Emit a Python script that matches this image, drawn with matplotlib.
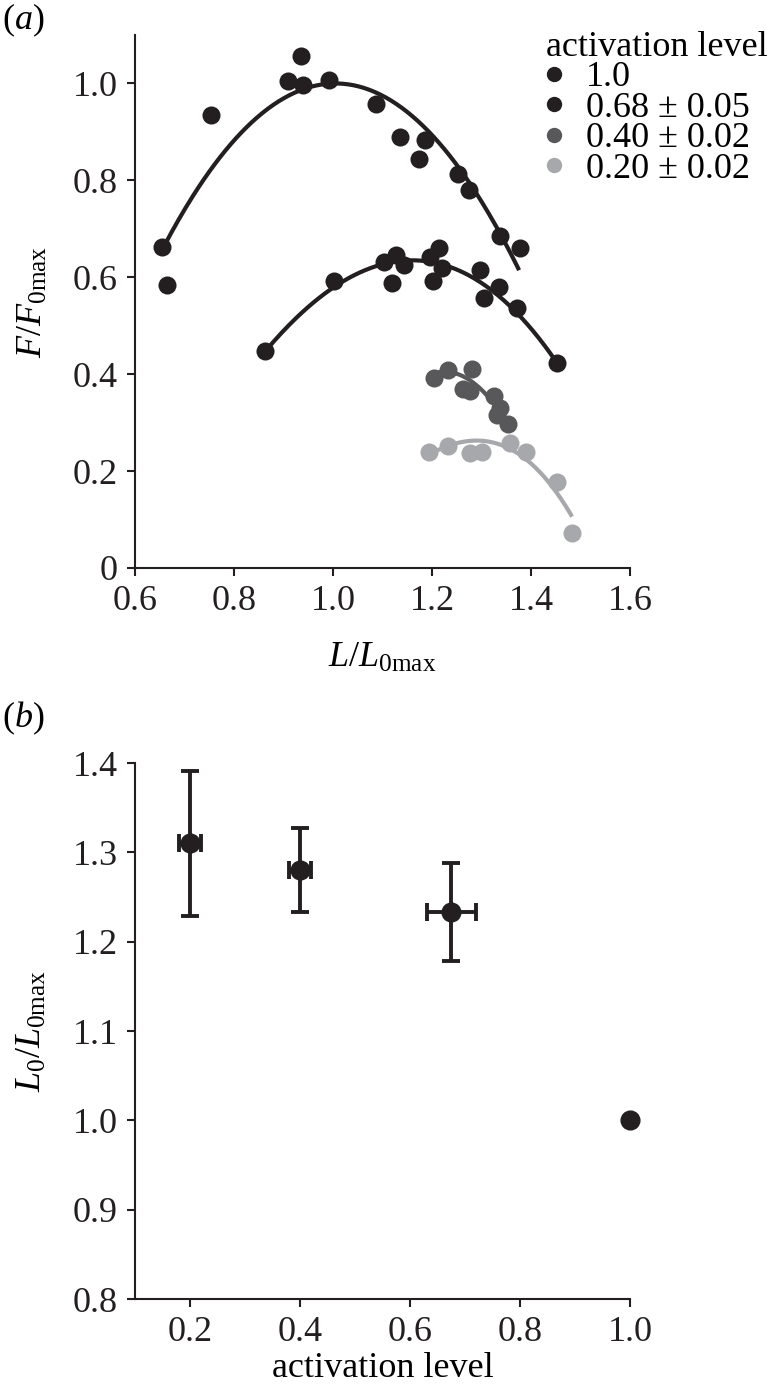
import numpy as np
import matplotlib
matplotlib.use("Agg")
import matplotlib.pyplot as plt
from matplotlib.ticker import FixedLocator, FuncFormatter

plt.rcParams['font.family'] = ['Liberation Serif', 'DejaVu Serif']
plt.rcParams['mathtext.fontset'] = 'custom'
plt.rcParams['mathtext.rm'] = 'Liberation Serif'
plt.rcParams['mathtext.it'] = 'Liberation Serif:italic'
plt.rcParams['mathtext.bf'] = 'Liberation Serif:bold'

# ---------------- data: panel (a) ----------------
legend_labels = ['1.0', '0.68 ± 0.05', '0.40 ± 0.02', '0.20 ± 0.02']
series_colors = ['#231f20', '#231f20', '#58585a', '#a7a8ab']

x_100 = [0.655, 0.664, 0.753, 0.935, 0.910, 0.939, 0.992, 1.086, 1.135, 1.186, 1.173, 1.253, 1.274, 1.337, 1.378]
y_100 = [0.663, 0.584, 0.934, 1.056, 1.006, 0.997, 1.008, 0.957, 0.889, 0.884, 0.844, 0.813, 0.780, 0.686, 0.661]

x_068 = [0.863, 1.002, 1.104, 1.127, 1.143, 1.119, 1.195, 1.215, 1.220, 1.203, 1.296, 1.305, 1.336, 1.372, 1.452]
y_068 = [0.447, 0.593, 0.632, 0.645, 0.626, 0.589, 0.641, 0.661, 0.619, 0.593, 0.615, 0.558, 0.579, 0.536, 0.424]

x_040 = [1.204, 1.233, 1.281, 1.263, 1.277, 1.325, 1.337, 1.332, 1.353]
y_040 = [0.392, 0.409, 0.411, 0.370, 0.366, 0.355, 0.331, 0.315, 0.298]

x_020 = [1.193, 1.232, 1.277, 1.300, 1.358, 1.390, 1.452, 1.483]
y_020 = [0.239, 0.252, 0.237, 0.239, 0.258, 0.239, 0.178, 0.073]

# fitted curves: y = c - a*(x-h)^2 + b*(x-h)^3, drawn over [xmin, xmax]
curve_h = [1.005, 1.16, 1.225, 1.29]
curve_c = [1.0, 0.635, 0.405, 0.263]
curve_a = [2.8, 2.304, 6.6, 3.512]
curve_b = [0.0, -0.585, 0.0, -3.643]
curve_xmin = [0.66, 0.866, 1.21, 1.196]
curve_xmax = [1.376, 1.45, 1.354, 1.483]

xticks_a = [0.6, 0.8, 1.0, 1.2, 1.4, 1.6]
yticks_a = [0, 0.2, 0.4, 0.6, 0.8, 1.0]

# ---------------- data: panel (b) ----------------
act = [0.20, 0.40, 0.675, 1.0]
act_err = [0.02, 0.02, 0.045, 0.0]
L0 = [1.310, 1.280, 1.233, 1.0]
L0_err = [0.081, 0.047, 0.055, 0.0]

xticks_b = [0.2, 0.4, 0.6, 0.8, 1.0]
yticks_b = [0.8, 0.9, 1.0, 1.1, 1.2, 1.3, 1.4]

FS = 26
W, H = 775, 1386
fig = plt.figure(figsize=(W / 100, H / 100), dpi=100)

def style_axes(ax):
    for s in ['top', 'right']:
        ax.spines[s].set_visible(False)
    for s in ['left', 'bottom']:
        ax.spines[s].set_linewidth(1.5)
        ax.spines[s].set_color('#231f20')
    ax.tick_params(direction='out', length=5.5, width=1.5, colors='#231f20',
                   labelsize=FS, pad=7)

# ---------------- panel (a) ----------------
axa = fig.add_axes([135 / W, 1 - 568 / H, 495 / W, (568 - 35) / H])
style_axes(axa)
xs_all = [x_100, x_068, x_040, x_020]
ys_all = [y_100, y_068, y_040, y_020]
handles = []
for i in range(4):
    xx = np.linspace(curve_xmin[i], curve_xmax[i], 200)
    d = xx - curve_h[i]
    yy = curve_c[i] - curve_a[i] * d ** 2 + curve_b[i] * d ** 3
    axa.plot(xx, yy, color=series_colors[i], lw=3.0, solid_capstyle='butt', zorder=2)
for i in range(4):
    h, = axa.plot(xs_all[i], ys_all[i], 'o', color=series_colors[i], ms=13,
                  mew=0, zorder=3, label=legend_labels[i], clip_on=False)
    handles.append(h)
axa.set_xlim(0.6, 1.6)
axa.set_ylim(0, 1.1)
axa.xaxis.set_major_locator(FixedLocator(xticks_a))
axa.yaxis.set_major_locator(FixedLocator(yticks_a))
axa.xaxis.set_major_formatter(FuncFormatter(lambda v, p: f'{v:.1f}'))
axa.yaxis.set_major_formatter(FuncFormatter(lambda v, p: '0' if abs(v) < 1e-9 else f'{v:.1f}'))
axa.set_xlabel(r'$L/L_{\mathrm{0max}}$', fontsize=FS, labelpad=17)
axa.set_ylabel(r'$F/F_{\mathrm{0max}}$', fontsize=FS, labelpad=16)

leg = axa.legend(handles=handles, loc='upper left',
                 bbox_to_anchor=(546 / W, 1 - 31 / H), bbox_transform=fig.transFigure,
                 frameon=False, fontsize=FS, title='activation level', title_fontsize=FS,
                 alignment='left', handlelength=0.45, handletextpad=0.65,
                 labelspacing=-0.08, borderpad=0, borderaxespad=0, markerscale=0.85)

fig.text(2 / W, 1 - 20 / H, r'$(\mathit{a})$', fontsize=FS, ha='left', va='center')

# ---------------- panel (b) ----------------
axb = fig.add_axes([135 / W, 1 - 1299 / H, 495 / W, (1299 - 763) / H])
style_axes(axb)
axb.errorbar(act[:3], L0[:3], xerr=act_err[:3], yerr=L0_err[:3], fmt='o',
             color='#231f20', ms=13.5, elinewidth=2.8, capthick=2.8,
             capsize=6.8, zorder=3)
axb.plot(act[3:], L0[3:], 'o', color='#231f20', ms=13.5, zorder=3, clip_on=False)
axb.set_xlim(0.1, 1.0)
axb.set_ylim(0.8, 1.4)
axb.xaxis.set_major_locator(FixedLocator(xticks_b))
axb.yaxis.set_major_locator(FixedLocator(yticks_b))
axb.xaxis.set_major_formatter(FuncFormatter(lambda v, p: f'{v:.1f}'))
axb.yaxis.set_major_formatter(FuncFormatter(lambda v, p: f'{v:.1f}'))
axb.set_xlabel('activation level', fontsize=FS, labelpad=2)
axb.set_ylabel(r'$L_0/L_{\mathrm{0max}}$', fontsize=FS, labelpad=17)

fig.text(2 / W, 1 - 718 / H, r'$(\mathit{b})$', fontsize=FS, ha='left', va='center')

fig.savefig('out.png', dpi=100)
